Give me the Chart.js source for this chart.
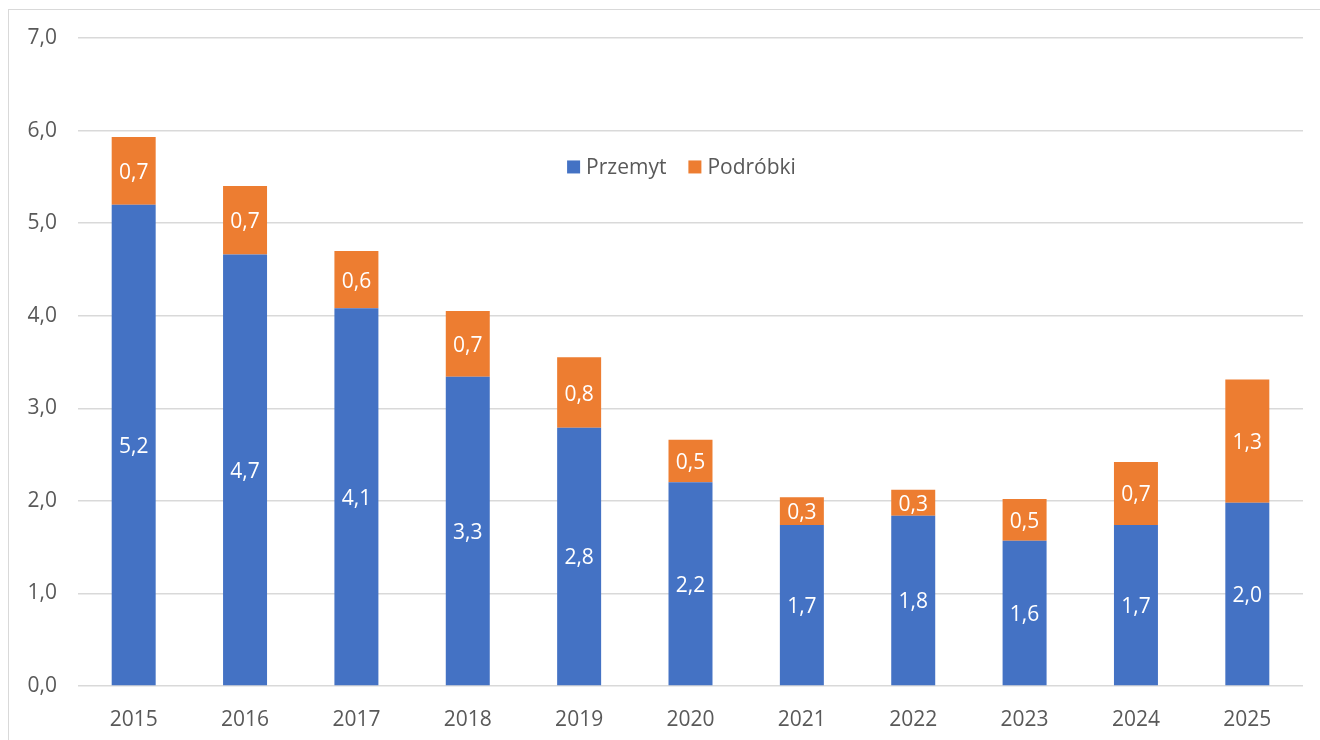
<!DOCTYPE html>
<html lang="pl">
<head>
<meta charset="utf-8">
<title>Przemyt i podróbki</title>
<script src="https://cdn.jsdelivr.net/npm/chart.js@4.4.1/dist/chart.umd.min.js"></script>
<style>
    html, body { margin: 0; padding: 0; background: #fff; overflow: hidden; }
    .frame {
        position: absolute; left: 8px; top: 9px; width: 1340px; height: 760px;
        border-left: 1px solid #d9d9d9; border-top: 1px solid #d9d9d9;
    }
    .wrap { position: absolute; left: 0; top: 0; width: 1320px; height: 740px; }
</style>
</head>
<body>
<div class="frame"></div>
<div class="wrap"><canvas id="chart"></canvas></div>
<script>
const years = ['2015', '2016', '2017', '2018', '2019', '2020', '2021', '2022', '2023', '2024', '2025'];
const przemyt = [5.20, 4.66, 4.08, 3.34, 2.79, 2.20, 1.74, 1.84, 1.57, 1.74, 1.98];
const podrobki = [0.73, 0.74, 0.62, 0.71, 0.76, 0.46, 0.30, 0.28, 0.45, 0.68, 1.33];
const seriesNames = ['Przemyt', 'Podróbki'];
const yMax = 7;

const BLUE = '#4472c4';
const ORANGE = '#ed7d31';
const TEXT = '#595959';
const GRID = '#d9d9d9';
const FONT = { family: '"Open Sans", sans-serif', size: 21 };

const fmt = v => v.toFixed(1).replace('.', ',');

// wartości w środku każdego segmentu
const valueLabels = {
    id: 'valueLabels',
    afterDatasetsDraw(chart) {
        const ctx = chart.ctx;
        ctx.save();
        ctx.font = `${FONT.size}px ${FONT.family}`;
        ctx.fillStyle = '#ffffff';
        ctx.textAlign = 'center';
        ctx.textBaseline = 'middle';
        chart.data.datasets.forEach((ds, i) => {
            chart.getDatasetMeta(i).data.forEach((bar, j) => {
                const { x, y, base } = bar.getProps(['x', 'y', 'base'], true);
                ctx.fillText(fmt(ds.data[j]), x, (y + base) / 2 + 2);
            });
        });
        ctx.restore();
    }
};

// legenda wewnątrz obszaru wykresu, jak w Excelu
const insideLegend = {
    id: 'insideLegend',
    afterDraw(chart) {
        const { ctx, chartArea } = chart;
        const box = 13, gap = 6, spacing = 22;
        ctx.save();
        ctx.font = `${FONT.size}px ${FONT.family}`;
        const items = chart.data.datasets.map(ds => ({
            text: ds.label,
            color: ds.backgroundColor,
            w: ctx.measureText(ds.label).width
        }));
        const total = items.reduce((s, it) => s + box + gap + it.w, 0) + spacing * (items.length - 1);
        let x = (chartArea.left + chartArea.right) / 2 - total / 2 - 9;
        const y = chartArea.top + chartArea.height * 0.199;
        ctx.textBaseline = 'middle';
        ctx.textAlign = 'left';
        items.forEach(it => {
            ctx.fillStyle = it.color;
            ctx.fillRect(x, y - box / 2, box, box);
            x += box + gap;
            ctx.fillStyle = TEXT;
            ctx.fillText(it.text, x, y + 1);
            x += it.w + spacing;
        });
        ctx.restore();
    }
};

new Chart(document.getElementById('chart').getContext('2d'), {
    type: 'bar',
    data: {
        labels: years,
        datasets: [{
            label: seriesNames[0],
            data: przemyt,
            backgroundColor: BLUE
        }, {
            label: seriesNames[1],
            data: podrobki,
            backgroundColor: ORANGE
        }]
    },
    options: {
        responsive: true,
        maintainAspectRatio: false,
        animation: false,
        layout: { padding: { top: 38, right: 17, left: 0, bottom: 0 } },
        datasets: {
            bar: { barPercentage: 0.395, categoryPercentage: 1, borderWidth: 0 }
        },
        scales: {
            x: {
                stacked: true,
                grid: { display: false },
                border: { display: false },
                ticks: { color: TEXT, font: FONT, padding: 13 },
                afterFit(scale) { scale.height = 54; }
            },
            y: {
                stacked: true,
                min: 0,
                max: yMax,
                grid: { color: GRID, lineWidth: 1.5, drawTicks: false },
                border: { display: false },
                ticks: {
                    stepSize: 1,
                    color: TEXT,
                    font: FONT,
                    padding: 21,
                    callback: v => fmt(v)
                },
                afterFit(scale) { scale.width = 78; }
            }
        },
        plugins: {
            legend: { display: false },
            tooltip: { enabled: false }
        }
    },
    plugins: [valueLabels, insideLegend]
});
</script>
</body>
</html>
